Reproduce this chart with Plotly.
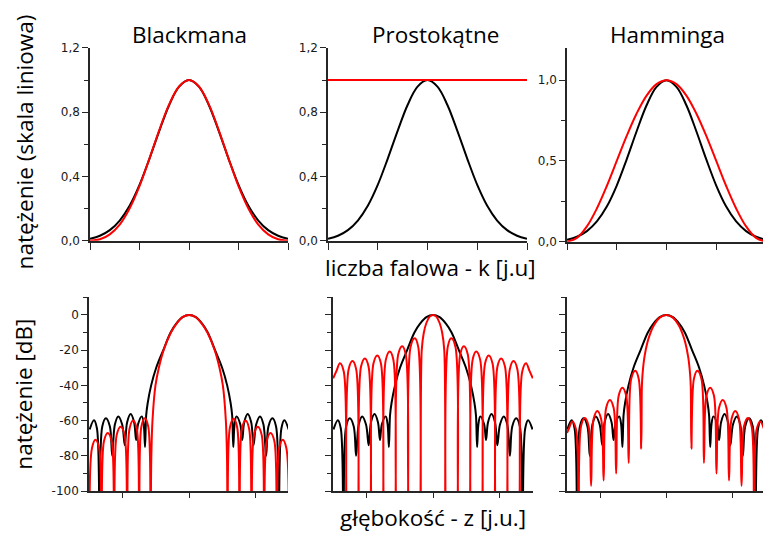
import plotly.graph_objects as go

# ---------------- data ----------------
# top row: window functions on normalised wavenumber axis
win_u = [-1.0, -0.9, -0.8, -0.7, -0.6, -0.5, -0.4, -0.3, -0.2, -0.1, 0.0,
         0.1, 0.2, 0.3, 0.4, 0.5, 0.6, 0.7, 0.8, 0.9, 1.0]
gauss_lin = [0.012, 0.031, 0.066, 0.126, 0.218, 0.348, 0.510, 0.684, 0.845, 0.959, 1.0,
             0.959, 0.845, 0.684, 0.510, 0.348, 0.218, 0.126, 0.066, 0.031, 0.012]
blackman_lin = [0.0, 0.009, 0.040, 0.101, 0.201, 0.340, 0.510, 0.689, 0.849, 0.960, 1.0,
                0.960, 0.849, 0.689, 0.510, 0.340, 0.201, 0.101, 0.040, 0.009, 0.0]
hann_lin = [0.0, 0.024, 0.095, 0.206, 0.345, 0.500, 0.655, 0.794, 0.905, 0.976, 1.0,
            0.976, 0.905, 0.794, 0.655, 0.500, 0.345, 0.206, 0.095, 0.024, 0.0]
rect_u = [-1.0, 1.0]
rect_lin = [1.0, 1.0]

# bottom row: point spread functions in dB on depth axis
gauss_db_u = [-1.50, -1.435, -1.39, -1.35, -1.31, -1.255, -1.195, -1.16, -1.12, -1.068,
              -1.01, -0.97, -0.935, -0.882, -0.83, -0.80, -0.77, -0.713, -0.685, -0.665,
              -0.648, -0.625, -0.573, -0.497, -0.39, -0.28, -0.195, -0.10, 0.0,
              0.10, 0.195, 0.28, 0.39, 0.497, 0.573, 0.625, 0.648,
              0.665, 0.685, 0.713, 0.77, 0.80, 0.83, 0.882, 0.935, 0.97, 1.01,
              1.068, 1.12, 1.16, 1.195, 1.255, 1.31, 1.35, 1.39, 1.435, 1.50]
gauss_db = [-65, -59.8, -64.5, -115, -63.3, -58.7, -63.3, -80, -62.2, -57.6,
            -62.2, -74, -60.9, -56.3, -60.9, -71, -62, -57.6, -62, -75,
            -57, -50, -40, -30, -20, -10, -5, -1.3, 0,
            -1.3, -5, -10, -20, -30, -40, -50, -57,
            -75, -62, -57.6, -62, -71, -60.9, -56.3, -60.9, -74, -62.2,
            -57.6, -62.2, -80, -63.3, -58.7, -63.3, -115, -64.5, -59.8, -65]

blackman_db_u = [-1.50, -1.464, -1.412, -1.358, -1.322, -1.284, -1.227, -1.169, -1.131,
                 -1.092, -1.033, -0.974, -0.935, -0.899, -0.845, -0.790, -0.754, -0.720,
                 -0.669, -0.617, -0.583, -0.570, -0.553, -0.508, -0.457, -0.385, -0.275,
                 -0.19, -0.10, 0.0, 0.10, 0.19, 0.275, 0.385, 0.457, 0.508, 0.553, 0.570,
                 0.580, 0.616, 0.670, 0.723, 0.759, 0.795, 0.850, 0.904, 0.940, 0.978,
                 1.035, 1.093, 1.131, 1.169, 1.227, 1.284, 1.322, 1.358, 1.411, 1.464, 1.50]
blackman_db = [-115, -75.4, -70.8, -75.4, -115, -71.6, -67, -71.6, -115,
               -68.1, -63.5, -68.1, -115, -64.6, -60, -64.6, -115, -63.3,
               -58.7, -63.3, -115, -80, -60, -40, -30, -20, -10,
               -5, -1.3, 0, -1.3, -5, -10, -20, -30, -40, -60, -80,
               -115, -63.6, -59, -63.6, -115, -64.6, -60, -64.6, -115, -68.1,
               -63.5, -68.1, -115, -71.6, -67, -71.6, -115, -75.4, -70.8, -75.4, -115]

rect_db_u = [-1.505, -1.459, -1.403, -1.346, -1.309, -1.272, -1.214, -1.159, -1.122,
             -1.085, -1.027, -0.972, -0.935, -0.898, -0.840, -0.785, -0.748, -0.711,
             -0.652, -0.598, -0.561, -0.524, -0.465, -0.411, -0.374, -0.337, -0.275,
             -0.224, -0.187, -0.17, -0.14, -0.10, -0.05, 0.0, 0.05, 0.10, 0.14, 0.17,
             0.187, 0.224, 0.275, 0.337, 0.374, 0.411, 0.465, 0.524, 0.561, 0.598,
             0.652, 0.711, 0.748, 0.785, 0.840, 0.898, 0.935, 0.972, 1.027, 1.085,
             1.122, 1.159, 1.214, 1.272, 1.309, 1.346, 1.403, 1.459, 1.505]
rect_db = [-36, -32.1, -27.5, -32.1, -115, -30.8, -26.2, -30.8, -115,
           -29.3, -24.7, -29.3, -115, -27.6, -23.0, -27.6, -115, -25.4,
           -20.8, -25.4, -115, -22.4, -17.8, -22.4, -115, -17.9, -13.3,
           -17.9, -115, -20.1, -10.4, -4.6, -1.0, 0, -1.0, -4.6, -10.4, -20.1,
           -115, -17.9, -13.3, -17.9, -115, -22.4, -17.8, -22.4, -115, -25.4,
           -20.8, -25.4, -115, -27.6, -23.0, -27.6, -115, -29.3, -24.7, -29.3,
           -115, -30.8, -26.2, -30.8, -115, -32.1, -27.5, -32.1, -36]

hann_db_u = [-1.505, -1.482, -1.425, -1.368, -1.33, -1.292, -1.235, -1.178, -1.14,
             -1.102, -1.045, -0.988, -0.95, -0.912, -0.855, -0.798, -0.76, -0.722,
             -0.665, -0.608, -0.57, -0.532, -0.47, -0.418, -0.38, -0.3705, -0.361,
             -0.3325, -0.285, -0.24, -0.19, -0.095, 0.0, 0.095, 0.19, 0.24, 0.285,
             0.3325, 0.361, 0.3705, 0.38, 0.418, 0.47, 0.532, 0.57, 0.608, 0.665,
             0.722, 0.76, 0.798, 0.855, 0.912, 0.95, 0.988, 1.045, 1.102, 1.14,
             1.178, 1.235, 1.292, 1.33, 1.368, 1.425, 1.482]
hann_db = [-67, -65.1, -60.5, -65.1, -115, -63.1, -58.5, -63.1, -97,
           -59.1, -54.5, -59.1, -94, -52.9, -48.3, -52.9, -90, -45.9,
           -41.3, -45.9, -84, -36.3, -31.7, -36.3, -76, -40.8, -34,
           -24.1, -15.4, -10.2, -6.0, -1.4, 0, -1.4, -6.0, -10.2, -15.4,
           -24.1, -34, -40.8, -76, -36.3, -31.7, -36.3, -84, -45.9, -41.3,
           -45.9, -90, -52.9, -48.3, -52.9, -94, -59.1, -54.5, -59.1, -97,
           -63.1, -58.5, -63.1, -115, -65.1, -60.5, -65.1]

panel_titles = ["Blackmana", "Prostokątne", "Hamminga"]
lin_ticks_a = [0.0, 0.4, 0.8, 1.2]
lin_ticktext_a = ["0,0", "0,4", "0,8", "1,2"]
lin_minor_a = [0.2, 0.6, 1.0]
lin_ticks_b = [0.0, 0.5, 1.0]
lin_ticktext_b = ["0,0", "0,5", "1,0"]
lin_minor_b = [0.25, 0.75]
db_ticks = [-100, -80, -60, -40, -20, 0]
db_ticktext = ["-100", "-80", "-60", "-40", "-20", "0"]
db_minor = [-90, -70, -50, -30, -10, 10]

# ---------------- figure ----------------
W, H = 763, 539
BLACK = "#000000"
RED = "#ff0000"
LW = 2.0

def px_x(a, b):
    return [a / W, min(b / W, 1.0)]

def px_y(top, bottom):
    return [1 - bottom / H, 1 - top / H]

fig = go.Figure()

def add(x, y, color, xa, ya):
    fig.add_trace(go.Scatter(x=x, y=y, mode="lines", xaxis=xa, yaxis=ya,
                             line=dict(color=color, width=LW, shape="spline", smoothing=1.0),
                             hoverinfo="skip", showlegend=False))

# top row
add(win_u, gauss_lin, BLACK, "x", "y")
add(win_u, blackman_lin, RED, "x", "y")
add(win_u, gauss_lin, BLACK, "x2", "y2")
add(rect_u, rect_lin, RED, "x2", "y2")
add(win_u, gauss_lin, BLACK, "x3", "y3")
add(win_u, hann_lin, RED, "x3", "y3")
# bottom row
add(gauss_db_u, gauss_db, BLACK, "x4", "y4")
add(blackman_db_u, blackman_db, RED, "x4", "y4")
add(gauss_db_u, gauss_db, BLACK, "x5", "y5")
add(rect_db_u, rect_db, RED, "x5", "y5")
add(gauss_db_u, gauss_db, BLACK, "x6", "y6")
add(hann_db_u, hann_db, RED, "x6", "y6")

AX = "#262626"
tickfont = dict(family="DejaVu Sans, Verdana, sans-serif", size=12, color="#1a1a1a")
common = dict(showline=True, linecolor=AX, linewidth=1.5, showgrid=False, zeroline=False,
              ticks="outside", tickcolor=AX, tickwidth=1.3, mirror=False, tickfont=tickfont,
              fixedrange=True)

def xax(dom, rng, ticks, anchor, tl):
    return dict(common, domain=dom, range=rng, tickvals=ticks, showticklabels=False,
                ticklen=tl, anchor=anchor)

def yax(dom, rng, tv, tt, minor, anchor, labels=True):
    return dict(common, domain=dom, range=rng, tickvals=tv, ticktext=tt,
                showticklabels=labels, ticklen=6, anchor=anchor,
                minor=dict(tickvals=minor, ticks="outside", ticklen=4,
                           tickcolor=AX, tickwidth=1.2, showgrid=False))

top_y = px_y(42, 240)
top_y3 = px_y(42, 241)
bot_y = px_y(298, 497)

fig.update_layout(
    width=W, height=H, margin=dict(l=0, r=0, t=0, b=0),
    paper_bgcolor="white", plot_bgcolor="white",
    xaxis=xax(px_x(90, 288), [-1, 1], [-1, -0.5, 0, 0.5, 1], "y", 7),
    yaxis=yax(top_y, [0, 1.2], lin_ticks_a, lin_ticktext_a, lin_minor_a, "x"),
    xaxis2=xax(px_x(328, 527), [-1, 1], [-1, -0.5, 0, 0.5, 1], "y2", 7),
    yaxis2=yax(top_y, [0, 1.2], lin_ticks_a, lin_ticktext_a, lin_minor_a, "x2"),
    xaxis3=xax(px_x(567, 763), [-1, 0.97], [-1, -0.5, 0, 0.5, 1], "y3", 7),
    yaxis3=yax(top_y3, [0, 1.2], lin_ticks_b, lin_ticktext_b, lin_minor_b, "x3"),
    xaxis4=xax(px_x(89, 288), [-1.51, 1.49], [-1, 0, 1], "y4", 5),
    yaxis4=yax(bot_y, [-100, 10], db_ticks, db_ticktext, db_minor, "x4"),
    xaxis5=xax(px_x(333, 533), [-1.508, 1.508], [-1, 0, 1], "y5", 5),
    yaxis5=yax(bot_y, [-100, 10], db_ticks, db_ticktext, db_minor, "x5", labels=False),
    xaxis6=xax(px_x(567, 763), [-1.505, 1.465], [-1, 0, 1], "y6", 5),
    yaxis6=yax(bot_y, [-100, 10], db_ticks, db_ticktext, db_minor, "x6", labels=False),
)

TFONT = "Open Sans, Noto Sans, sans-serif"
def note(text, xpx, ypx, size=22.5, angle=0):
    fig.add_annotation(text=text, x=xpx / W, y=1 - ypx / H, xref="paper", yref="paper",
                       xanchor="center", yanchor="middle", showarrow=False, textangle=angle,
                       font=dict(family=TFONT, size=size, color="#000000"))

note(panel_titles[0], 189, 28)
note(panel_titles[1], 435, 28)
note(panel_titles[2], 667, 28)
note("liczba falowa - k [j.u]", 431, 267)
note("głębokość - z [j.u.]", 433, 524)
note("natężenie (skala liniowa)", 24, 139, angle=-90)
note("natężenie [dB]", 24, 398, angle=-90)

fig.write_html("out.html", config={"displayModeBar": False},
               post_script="document.body.style.margin='0';")
